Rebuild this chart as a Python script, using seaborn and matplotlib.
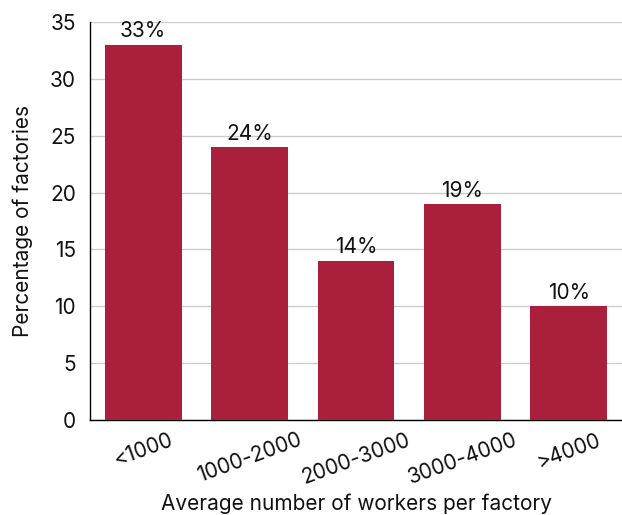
import matplotlib
matplotlib.use("Agg")
import matplotlib.pyplot as plt
import seaborn as sns
import pandas as pd

categories = ["<1000", "1000-2000", "2000-3000", "3000-4000", ">4000"]
percentages = [33, 24, 14, 19, 10]
bar_labels = ["33%", "24%", "14%", "19%", "10%"]

sns.set_style("white")
plt.rcParams['font.family'] = ['Inter', 'DejaVu Sans']
plt.rcParams['text.color'] = '#111111'
plt.rcParams['axes.labelcolor'] = '#111111'
plt.rcParams['xtick.color'] = '#111111'
plt.rcParams['ytick.color'] = '#111111'

df = pd.DataFrame({"cat": categories, "pct": percentages})

fig = plt.figure(figsize=(6.22, 5.15), dpi=100)
ax = fig.add_axes([0.1447, 0.1845, 0.8553, 0.7725])

sns.barplot(data=df, x="cat", y="pct", color="#a91f3c", saturation=1,
            width=0.72, ax=ax, zorder=3, edgecolor="none")

ax.set_ylim(0, 35)
ax.set_xlim(-0.5, len(categories) - 0.5)
ax.set_yticks(range(0, 36, 5))
ax.yaxis.grid(True, color="#cccccc", linewidth=1, zorder=0)
ax.set_axisbelow(True)

for spine in ["top", "right"]:
    ax.spines[spine].set_visible(False)
for spine in ["left", "bottom"]:
    ax.spines[spine].set_color("black")
    ax.spines[spine].set_linewidth(1)

fs = 15
ax.set_xticks([i + 0.5 for i in range(len(categories) - 1)])
ax.set_xticklabels([])
ax.set_xticks(range(len(categories)), minor=True)
ax.set_xticklabels(categories, minor=True, rotation=20, ha="center", fontsize=fs)
ax.tick_params(axis="x", which="major", direction="in", length=8, width=1, color="black")
ax.tick_params(axis="x", which="minor", length=0, pad=7)
ax.tick_params(axis="y", length=0, labelsize=fs, pad=10)

for i, (v, lab) in enumerate(zip(percentages, bar_labels)):
    ax.text(i, v + 0.3, lab, ha="center", va="bottom", fontsize=fs, color="#111111")

ax.set_xlabel("Average number of workers per factory", fontsize=fs, labelpad=4)
ax.set_ylabel("Percentage of factories", fontsize=fs, labelpad=12)

fig.savefig("out.png", dpi=100)
